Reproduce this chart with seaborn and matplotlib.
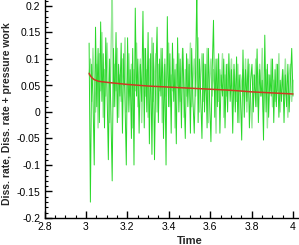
import matplotlib
matplotlib.use('Agg')
import matplotlib.pyplot as plt
import numpy as np
import pandas as pd
import seaborn as sns
from matplotlib.ticker import MultipleLocator

# Диапазон времени, на котором записан сигнал.
t_start, t_end = 3.015, 4.0

# Диссипация (яркая зелёная линия).
diss_rate = [
    0.13, -0.17, 0.09, 0.03, -0.10, 0.16, 0.01, 0.12, -0.02, 0.17,
    0.02, 0.11, -0.03, 0.14, 0.04, -0.09, 0.10, 0.00, -0.13, 0.12,
    0.01, 0.15, -0.02, 0.09, 0.03, 0.13, -0.04, 0.11, 0.02, -0.10,
    0.14, 0.00, 0.08, -0.05, 0.12, -0.10, 0.196, 0.03, 0.10, -0.04,
    0.09, 0.02, 0.19, -0.03, 0.12, 0.00, 0.15, -0.06, 0.11, -0.08,
    0.13, -0.09, 0.07, 0.16, -0.02, 0.10, 0.03, 0.12, -0.05, 0.09,
    -0.10, 0.18, 0.01, 0.11, -0.04, 0.13, 0.02, 0.08, -0.06, 0.14,
    0.00, 0.10, -0.03, 0.12, 0.04, -0.05, 0.11, 0.01, 0.09, -0.04,
    0.12, 0.02, -0.04, 0.07, 0.23, -0.02, 0.10, 0.03, -0.05, 0.11,
    0.00, 0.09, -0.03, 0.12, 0.02, -0.056, 0.08, 0.173, -0.01, 0.10,
    0.01, 0.11, -0.04, 0.07, 0.03, 0.10, -0.03, 0.09, 0.00, 0.11,
    0.02, 0.08, -0.04, 0.09, 0.00, 0.104, -0.02, 0.07, 0.03, -0.053,
    0.117, -0.01, 0.08, 0.02, 0.10, -0.03, 0.06, 0.09, 0.00, 0.07,
    0.01, 0.119, -0.02, 0.08, 0.03, 0.06, -0.053, 0.145, 0.00, 0.09,
    -0.01, 0.07, 0.03, 0.10, -0.02, 0.08, 0.01, 0.09, -0.01, 0.06,
    0.02, 0.08, -0.02, 0.07, 0.01, 0.09, 0.00, 0.06, 0.12, 0.03,
]

# Диссипация + работа давления (светло-зелёная линия).
diss_pressure = [
    0.07, 0.10, 0.02, 0.12, 0.05, 0.00, 0.09, -0.03, 0.11, 0.04,
    0.15, -0.01, 0.08, 0.03, 0.13, 0.06, -0.02, 0.10, 0.23, 0.01,
    0.09, 0.04, 0.12, -0.01, 0.07, 0.02, 0.10, 0.05, 0.14, 0.00,
    0.06, 0.11, 0.03, 0.09, -0.03, 0.08, 0.04, 0.13, 0.01, 0.07,
    0.10, -0.02, 0.06, 0.12, 0.03, 0.08, -0.01, 0.10, 0.05, 0.14,
    0.02, 0.07, 0.11, 0.00, 0.09, 0.04, 0.12, -0.02, 0.06, 0.10,
    0.03, 0.08, 0.13, 0.01, 0.07, 0.04, 0.10, -0.03, 0.09, 0.05,
    0.11, 0.02, 0.07, 0.12, -0.01, 0.08, 0.03, 0.10, 0.05, 0.13,
    0.01, 0.06, 0.10, 0.03, 0.08, 0.14, 0.00, 0.07, 0.11, 0.02,
    0.09, 0.04, 0.12, -0.02, 0.06, 0.10, 0.03, 0.08, 0.05, -0.04,
    0.10, 0.02, 0.08, 0.05, 0.11, -0.01, 0.07, 0.03, 0.09, 0.04,
    0.06, 0.10, 0.01, 0.08, 0.05, 0.02, 0.09, -0.02, 0.07, 0.04,
    0.08, 0.03, 0.10, 0.00, 0.06, 0.09, 0.02, -0.03, 0.07, 0.05,
    0.10, 0.01, 0.06, 0.09, 0.03, 0.12, 0.00, 0.05, 0.08, -0.03,
    0.07, 0.04, 0.10, 0.01, 0.06, 0.02, 0.09, 0.04, 0.11, 0.00,
    0.05, 0.08, 0.03, 0.10, 0.04, -0.01, 0.07, 0.09, 0.02, 0.06,
]

# Сглаженная (средняя) кривая — красная линия.
mean_time = [3.015, 3.02, 3.03, 3.04, 3.06, 3.08, 3.1, 3.15, 3.2, 3.3,
             3.4, 3.5, 3.6, 3.7, 3.8, 3.9, 4.0]
mean_rate = [0.073, 0.069, 0.064, 0.061, 0.058, 0.057, 0.056, 0.054, 0.052,
             0.049, 0.047, 0.045, 0.043, 0.041, 0.038, 0.036, 0.034]

time = np.linspace(t_start, t_end, len(diss_rate))
noisy = pd.DataFrame({'time': time,
                      'diss_rate': diss_rate,
                      'diss_pressure': diss_pressure})
smooth = pd.DataFrame({'time': mean_time, 'rate': mean_rate})

sns.set_style('ticks')
plt.rcParams['font.family'] = ['Liberation Sans', 'DejaVu Sans']

fig = plt.figure(figsize=(2.99, 2.45), dpi=100)
ax = fig.add_axes([44.6 / 299, 27 / 245, 1 - 44.6 / 299, 218 / 245])

# Светлая линия, затем яркая, затем сглаженная.
sns.lineplot(data=noisy, x='time', y='diss_pressure', ax=ax,
             color='#9ae89a', linewidth=1.0, estimator=None, sort=False)
sns.lineplot(data=noisy, x='time', y='diss_rate', ax=ax,
             color='#2ad82a', linewidth=0.7, estimator=None, sort=False)
sns.lineplot(data=smooth, x='time', y='rate', ax=ax,
             color='#cc3a22', linewidth=1.1, estimator=None)

ax.set_xlim(2.8, 4.0 + 6 / 207)
ax.set_ylim(-0.2, 0.2 + 6 / 530)
ax.xaxis.set_minor_locator(MultipleLocator(0.05))
ax.yaxis.set_minor_locator(MultipleLocator(0.01))
ax.set_xticks([2.8, 3.0, 3.2, 3.4, 3.6, 3.8, 4.0])
ax.set_xticklabels(['2.8', '3', '3.2', '3.4', '3.6', '3.8', '4'])
ax.set_yticks([-0.2, -0.15, -0.1, -0.05, 0, 0.05, 0.1, 0.15, 0.2])
ax.set_yticklabels(['-0.2', '-0.15', '-0.1', '-0.05', '0', '0.05', '0.1',
                    '0.15', '0.2'])

ax.tick_params(which='major', direction='in', length=5, width=1,
               labelsize=7.5, pad=3, colors='black')
ax.tick_params(which='minor', direction='in', length=2.5, width=0.8,
               colors='black')
for s in 'top', 'right':
    ax.spines[s].set_visible(False)
for s in 'left', 'bottom':
    ax.spines[s].set_linewidth(1)
    ax.spines[s].set_color('black')

ax.set_xlabel('Time', fontsize=8, fontweight='bold')
ax.set_ylabel('Diss. rate, Diss. rate + pressure work', fontsize=7.5,
              fontweight='bold')
ax.xaxis.set_label_coords((190 - 44.6) / 254.4, -18 / 218)
ax.yaxis.set_label_coords((12 - 44.6) / 254.4, 0.48)

fig.savefig('out.png', dpi=100)
